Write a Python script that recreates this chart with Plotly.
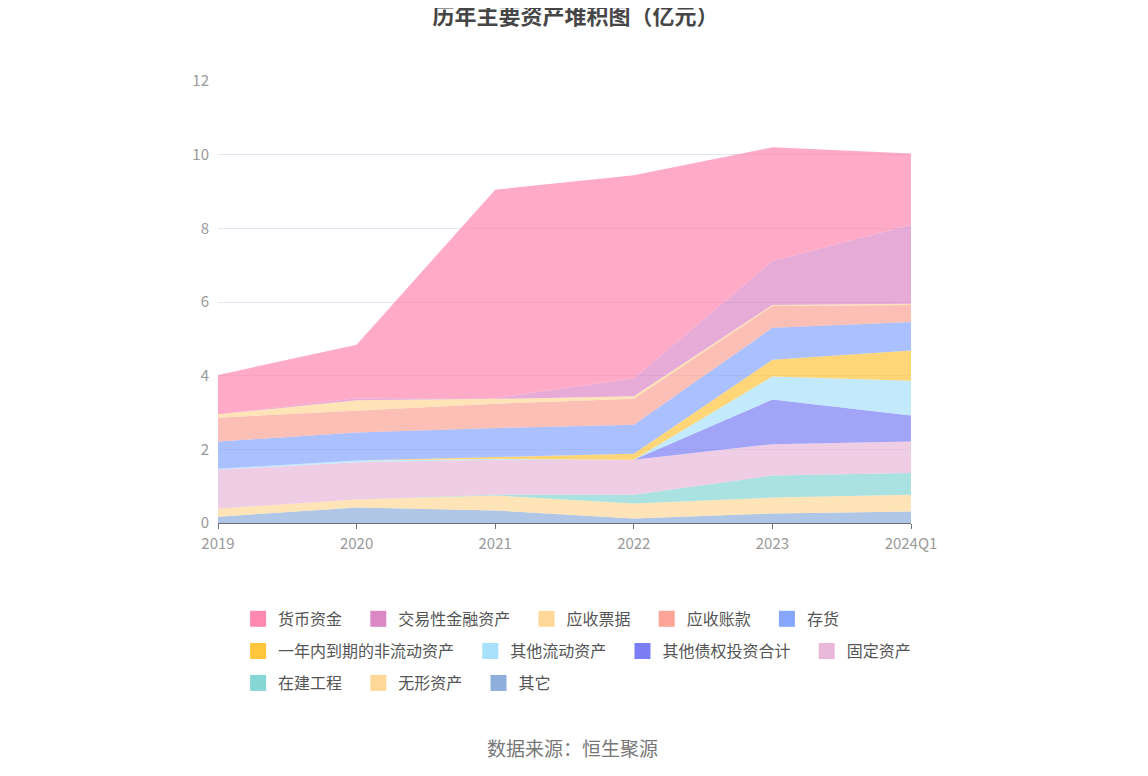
import plotly.graph_objects as go

# --- Data (亿元) ---
years = ["2019", "2020", "2021", "2022", "2023", "2024Q1"]

qita = [0.17, 0.42, 0.34, 0.12, 0.26, 0.31]            # 其它
wuxing = [0.22, 0.22, 0.41, 0.41, 0.43, 0.46]          # 无形资产
zaijian = [0.00, 0.00, 0.02, 0.24, 0.60, 0.59]         # 在建工程
guding = [1.06, 1.01, 0.95, 0.95, 0.85, 0.85]          # 固定资产
qita_zhaiquan = [0.00, 0.00, 0.00, 0.00, 1.21, 0.71]   # 其他债权投资合计
qita_liudong = [0.02, 0.05, 0.02, 0.00, 0.63, 0.94]    # 其他流动资产
yinian = [0.00, 0.00, 0.05, 0.16, 0.45, 0.82]          # 一年内到期的非流动资产
cunhuo = [0.74, 0.76, 0.79, 0.79, 0.87, 0.78]          # 存货
yingshou_zk = [0.65, 0.60, 0.66, 0.70, 0.59, 0.46]     # 应收账款
yingshou_pj = [0.09, 0.27, 0.13, 0.07, 0.03, 0.03]     # 应收票据
jiaoyi = [0.00, 0.06, 0.02, 0.48, 1.19, 2.15]          # 交易性金融资产
huobi = [1.07, 1.45, 5.66, 5.52, 3.09, 1.93]           # 货币资金

# bottom of the stack first; last field = legend row
series = [
    ("其它", qita, "142,174,220", "legend3"),
    ("无形资产", wuxing, "255,216,153", "legend3"),
    ("在建工程", zaijian, "134,214,214", "legend3"),
    ("固定资产", guding, "232,184,218", "legend2"),
    ("其他债权投资合计", qita_zhaiquan, "123,125,245", "legend2"),
    ("其他流动资产", qita_liudong, "168,225,251", "legend2"),
    ("一年内到期的非流动资产", yinian, "255,197,61", "legend2"),
    ("存货", cunhuo, "135,167,255", "legend"),
    ("应收账款", yingshou_zk, "251,164,151", "legend"),
    ("应收票据", yingshou_pj, "255,216,153", "legend"),
    ("交易性金融资产", jiaoyi, "219,136,196", "legend"),
    ("货币资金", huobi, "255,136,176", "legend"),
]

fig = go.Figure()
for name, vals, rgb, leg in series:
    fig.add_trace(go.Scatter(
        x=years,
        y=vals,
        name=name,
        mode="lines",
        stackgroup="assets",
        line=dict(width=0, color=f"rgb({rgb})"),
        fillcolor=f"rgba({rgb},0.7)",
        legendgroup=name,
        showlegend=False,
    ))
    # legend entry only (square swatch like the original), padded for wider gaps
    fig.add_trace(go.Scatter(
        x=[None],
        y=[None],
        name=name + "\u2002\u2009",
        mode="markers",
        marker=dict(symbol="square", size=16, color=f"rgb({rgb})"),
        legendgroup=name,
        legend=leg,
        hoverinfo="skip",
    ))

legend_style = dict(
    orientation="h",
    traceorder="reversed",
    x=0.029, xanchor="left",
    yanchor="middle",
    font=dict(size=16, color="#555555"),
    itemsizing="trace",
)

fig.update_layout(
    width=1148,
    height=776,
    paper_bgcolor="white",
    plot_bgcolor="white",
    font=dict(family="Noto Sans CJK SC", color="#666666", size=14),
    title=dict(
        text="<b>历年主要资产堆积图（亿元）</b>",
        x=0.4943, xanchor="center", y=0.999, yanchor="top",
        font=dict(size=22, color="#464646"),
    ),
    margin=dict(l=210, r=245, t=73, b=261),
    showlegend=True,
    legend=dict(legend_style, y=-0.217),
    legend2=dict(legend_style, y=-0.290),
    legend3=dict(legend_style, y=-0.362),
)

fig.update_xaxes(
    type="category",
    range=[0, 5],
    showgrid=False,
    showline=True,
    linecolor="#6E7079",
    linewidth=1,
    ticks="outside",
    ticklen=5,
    tickcolor="#6E7079",
    tickfont=dict(size=15, color="#999999"),
    ticklabelstandoff=2,
    zeroline=False,
)

fig.update_yaxes(
    range=[0, 12],
    dtick=2,
    showgrid=True,
    gridcolor="#E0E6F1",
    showline=False,
    zeroline=False,
    tickfont=dict(size=15, color="#999999"),
    ticklabelstandoff=8,
)

fig.add_annotation(
    text="数据来源：恒生聚源",
    xref="paper", yref="paper",
    x=0.512, y=-0.509,
    xanchor="center", yanchor="middle",
    showarrow=False,
    font=dict(size=19, color="#777777"),
)

fig.write_html("out.html")
